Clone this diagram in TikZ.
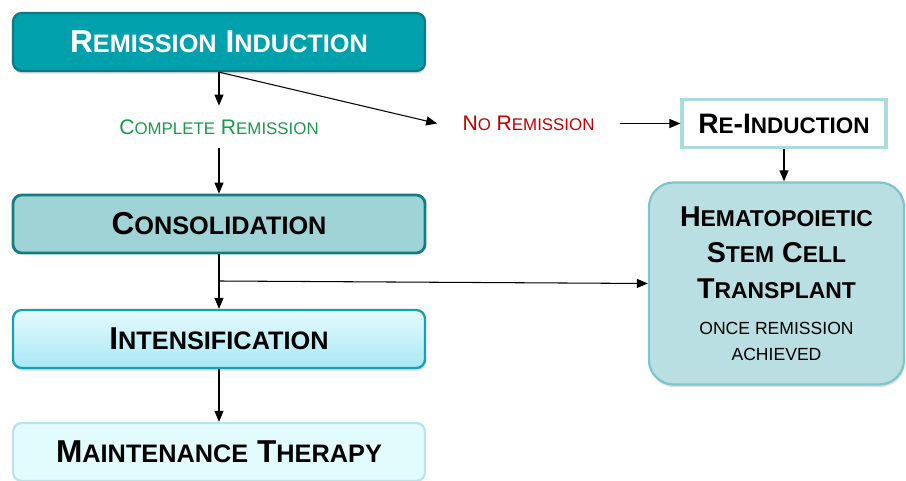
\documentclass[tikz,border=0pt]{standalone}
\usepackage{fontspec}
\setmainfont{Liberation Sans}
\usepackage{graphicx}
\usetikzlibrary{positioning,arrows.meta,shadows}
\definecolor{cind}{HTML}{00A1AC}
\definecolor{cindb}{HTML}{0C7A82}
\definecolor{ccon}{HTML}{A0D3D6}
\definecolor{cconb}{HTML}{137D84}
\definecolor{cintt}{HTML}{E6FAFD}
\definecolor{cintl}{HTML}{A8E8F5}
\definecolor{cintb}{HTML}{15A2B0}
\definecolor{cmnt}{HTML}{E2FBFD}
\definecolor{cmntb}{HTML}{BDE3E6}
\definecolor{creb}{HTML}{A9DCDF}
\definecolor{chs}{HTML}{BADFE2}
\definecolor{chsb}{HTML}{7FC6CC}
\definecolor{cok}{HTML}{1A9A48}
\definecolor{cno}{HTML}{C00000}
% fake small caps: first letter full, rest scaled
\newcommand{\scw}[2]{#1\scalebox{0.8}{#2}}

\begin{document}
\begin{tikzpicture}[
  font=\fontsize{18pt}{21pt}\selectfont\bfseries,
  blk/.style={rounded corners=5pt, minimum width=8.24cm, minimum height=1.16cm, inner sep=0pt, line width=1.3pt},
  indblk/.style={blk, draw=cindb, fill=cind, text=white, drop shadow={opacity=0.3, shadow xshift=0.5pt, shadow yshift=-1.5pt}},
  conblk/.style={blk, draw=cconb, fill=ccon, line width=1.6pt},
  intblk/.style={blk, draw=cintb, top color=cintt, bottom color=cintl, drop shadow={opacity=0.3, shadow xshift=0.5pt, shadow yshift=-1.5pt}},
  mntblk/.style={blk, draw=cmntb, fill=cmnt},
  reblk/.style={draw=creb, line width=1.8pt, fill=white, minimum width=4.08cm, minimum height=0.96cm, inner sep=0pt, font=\fontsize{16pt}{19pt}\selectfont\bfseries},
  hsctblk/.style={draw=chsb, fill=chs, rounded corners=14pt, line width=1.3pt, minimum width=5.1cm, minimum height=4.04cm, text width=4.8cm, align=flush center, inner sep=0pt, drop shadow={opacity=0.25, shadow xshift=0.5pt, shadow yshift=-1.5pt}},
  lbl/.style={font=\fontsize{12pt}{14pt}\selectfont, inner sep=0pt},
  arr/.style={-{Triangle[length=2.2mm,width=1.8mm]}, line width=0.6pt},
]
  \useasboundingbox (0,0) rectangle (18.12,-9.62);
  % --- main column ---
  \node[indblk] (ind) at (4.38,-0.84) {\scw{R}{EMISSION} \scw{I}{NDUCTION}};
  \node[lbl, text=cok, minimum height=0.84cm] (cr) at (4.38,-2.54) {\scw{C}{OMPLETE} \scw{R}{EMISSION}};
  \node[conblk] (con) at (4.38,-4.48) {\scw{C}{ONSOLIDATION}};
  \node[intblk] (int) at (4.38,-6.78) {\scw{I}{NTENSIFICATION}};
  \node[mntblk] (mnt) at (4.38,-9.04) {\scw{M}{AINTENANCE} \scw{T}{HERAPY}};
  % --- no remission branch ---
  \node[lbl, text=cno, minimum width=3.64cm] (nr) at (10.57,-2.47) {\scw{N}{O} \scw{R}{EMISSION}};
  \node[reblk] (rei) at (15.68,-2.47) {\scw{R}{E}-\scw{I}{NDUCTION}};
  \node[hsctblk] (hsct) at (15.53,-5.67) {%
    \fontsize{16.3pt}{20.4pt}\selectfont\bfseries
    \scw{H}{EMATOPOIETIC}\\ \scw{S}{TEM} \scw{C}{ELL}\\ \scw{T}{RANSPLANT}\par
    \vspace{6pt}\fontsize{10pt}{14.7pt}\selectfont\mdseries
    ONCE REMISSION\\ ACHIEVED\par};
  % --- connectors ---
  \draw[arr] (ind.south) -- (cr.north);
  \draw[arr] (cr.south) -- (con.north);
  \draw[arr] (ind.south) -- (nr.west);
  \draw[arr] (nr.east) -- (rei.west);
  \draw[arr] (rei.south) -- (rei.south |- hsct.north);
  \draw[arr] (con.south) -- (int.north);
  \coordinate (br) at (4.38,-5.62);
  \draw[arr] (br) -- (hsct.west);
  \draw[arr] (int.south) -- (mnt.north);
\end{tikzpicture}
\end{document}
